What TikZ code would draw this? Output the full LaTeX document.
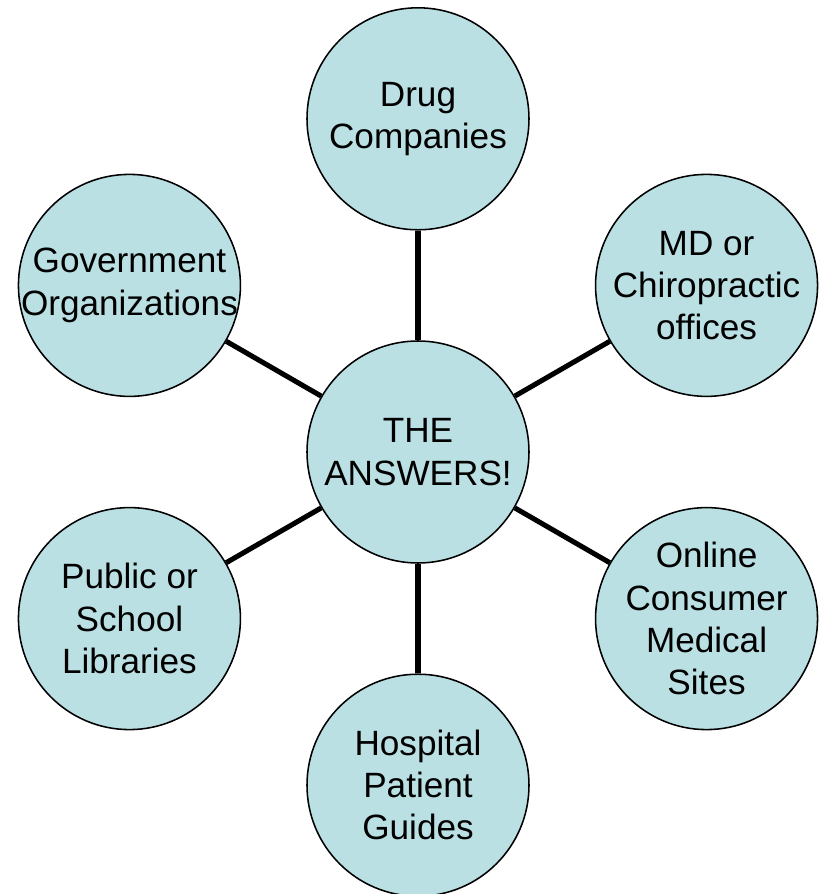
\documentclass[tikz,border=0pt]{standalone}
\usepackage{fontspec}
\setmainfont{Liberation Sans}
\definecolor{bleuclair}{RGB}{186,224,228}
\tikzset{
  bulle/.style={circle, draw=black, line width=1.1pt, fill=bleuclair,
    minimum size=5.55cm, inner sep=-0.6cm, align=center,
    font=\fontsize{25}{30}\selectfont},
  lien/.style={-, line width=3.6pt, black}
}
\begin{document}
\begin{tikzpicture}
	\useasboundingbox (-10.45cm,-11.05cm) rectangle (10.05cm,11.3cm);
		\node (Ans) at (0,0) [bulle] {THE\\ANSWERS!};
		\node (Dr) at (90:8.33cm) [bulle] {Drug\\Companies} edge [lien] (Ans);
		\node (Md) at (30:8.33cm) [bulle] {MD or\\Chiropractic\\offices} edge [lien] (Ans);
		\node (On) at (-30:8.33cm) [bulle] {Online\\Consumer\\Medical\\Sites} edge [lien] (Ans);
		\node (Ho) at (-90:8.33cm) [bulle] {Hospital\\Patient\\Guides} edge [lien] (Ans);
		\node (Pu) at (210:8.33cm) [bulle] {Public or\\School\\Libraries} edge [lien] (Ans);
		\node (Go) at (150:8.33cm) [bulle] {Government\\Organizations} edge [lien] (Ans);
	\end{tikzpicture}
\end{document}
